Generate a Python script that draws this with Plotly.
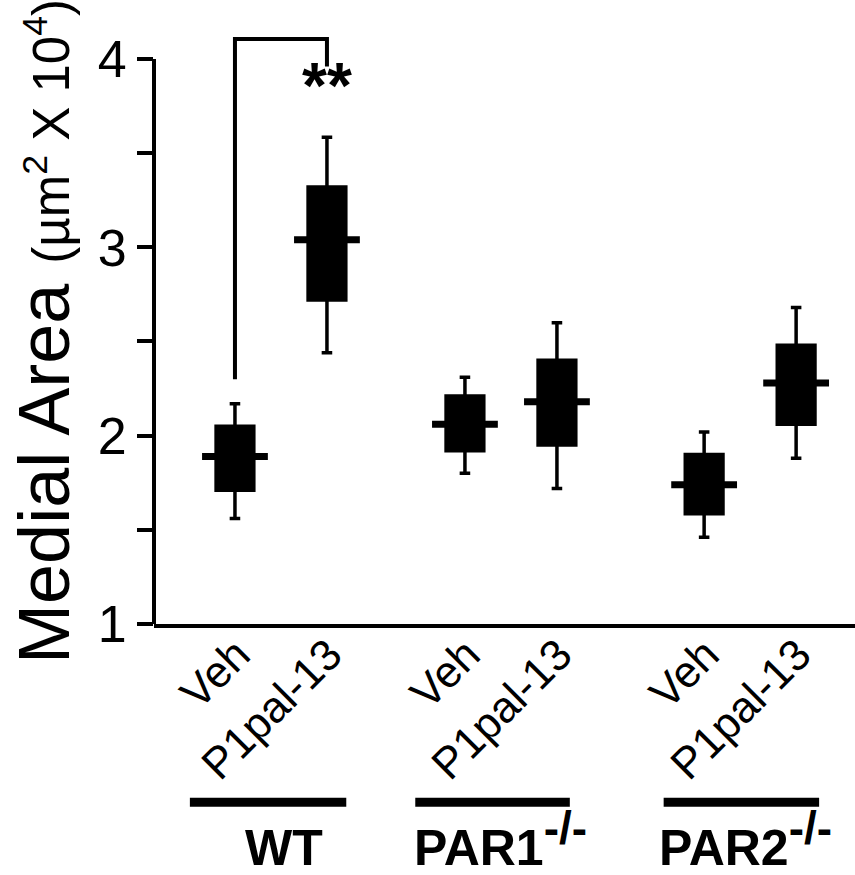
import plotly.graph_objects as go

# ---- data ----
treatments = ["Veh", "P1pal-13", "Veh", "P1pal-13", "Veh", "P1pal-13"]
groups = ["WT", "PAR1", "PAR2"]
group_sup = ["", "-/-", "-/-"]
positions = [1.0, 2.0, 3.5, 4.5, 6.1, 7.1]
lower_whisker = [1.56, 2.44, 1.80, 1.72, 1.46, 1.88]
q1_vals = [1.71, 2.72, 1.92, 1.95, 1.585, 2.06]
medians = [1.89, 3.04, 2.06, 2.18, 1.74, 2.28]
q3_vals = [2.05, 3.32, 2.21, 2.40, 1.90, 2.48]
upper_whisker = [2.17, 3.585, 2.31, 2.60, 2.02, 2.68]

y_ticks = [1, 1.5, 2, 2.5, 3, 3.5, 4]
y_ticktext = ["1", "", "2", "", "3", "", "4"]

# significance bracket (WT Veh vs WT P1pal-13)
bracket_x = [1.0, 2.0]
bracket_y = [2.30, 4.106, 3.96]
sig_label = "**"
sig_y = 4.06

# group underline bars and label positions
bar_start = [0.51, 2.96, 5.66]
bar_end = [2.21, 4.64, 7.35]
group_label_x = [1.53, 3.89, 6.55]

FONT = "Liberation Sans, Arial, sans-serif"

fig = go.Figure()

fig.add_trace(go.Box(
    x=positions,
    q1=q1_vals, median=medians, q3=q3_vals,
    lowerfence=lower_whisker, upperfence=upper_whisker,
    width=0.41,
    fillcolor="black",
    line=dict(color="black", width=3.5),
    whiskerwidth=0.28,
    boxpoints=False,
    hoverinfo="skip",
))

# median protrusions
fig.add_trace(go.Scatter(
    x=positions, y=medians, mode="markers",
    marker=dict(symbol="line-ew", size=47, line=dict(color="black", width=7)),
    hoverinfo="skip",
))

shapes = []
# y axis line from 1 to 4
shapes.append(dict(type="line", xref="paper", yref="y", x0=0, x1=0,
                   y0=y_ticks[0], y1=y_ticks[-1], line=dict(color="black", width=4)))
# bracket
path = (f"M {bracket_x[0]},{bracket_y[0]} L {bracket_x[0]},{bracket_y[1]} "
        f"L {bracket_x[1]},{bracket_y[1]} L {bracket_x[1]},{bracket_y[2]}")
shapes.append(dict(type="path", xref="x", yref="y", path=path,
                   line=dict(color="black", width=4)))
# group bars
for s, e in zip(bar_start, bar_end):
    shapes.append(dict(type="line", xref="x", yref="paper", x0=s, x1=e,
                       y0=-0.295, y1=-0.295, line=dict(color="black", width=9)))

annotations = []
annotations.append(dict(x=bracket_x[1], y=sig_y, xref="x", yref="y", text=f"<b>{sig_label}</b>",
                        showarrow=False, xanchor="center", yanchor="top",
                        font=dict(size=64, color="black", family=FONT)))
for gx, g, sp in zip(group_label_x, groups, group_sup):
    txt = f"<b>{g}</b>"
    if sp:
        txt += f"<sup><b><span style='font-size:46px'>{sp}</span></b></sup>"
    annotations.append(dict(x=gx, y=-0.420, xref="x", yref="paper", text=txt,
                            showarrow=False, xanchor="center", yanchor="bottom",
                            font=dict(size=50, color="black", family=FONT)))
annotations.append(dict(
    x=-0.158, y=0.484, xref="paper", yref="paper",
    text="Medial Area <span style='font-size:51px'>(µm<sup>2</sup> X 10<sup>4</sup>)</span>",
    textangle=-90, showarrow=False, xanchor="center", yanchor="middle",
    font=dict(size=72, color="black", family=FONT)))

fig.update_layout(
    width=855, height=875, autosize=False,
    margin=dict(l=154, r=0, t=20, b=251),
    paper_bgcolor="white", plot_bgcolor="white",
    showlegend=False,
    shapes=shapes, annotations=annotations,
    font=dict(family=FONT, color="black"),
)
fig.update_xaxes(
    range=[0.12, 7.74], showgrid=False, zeroline=False,
    showline=True, linecolor="black", linewidth=4,
    tickvals=positions, ticktext=treatments, tickangle=-45,
    ticks="", tickfont=dict(size=44, family=FONT, color="black"),
    ticklabelstandoff=-17, ticklabelshift=2,
    automargin=False,
)
fig.update_yaxes(
    range=[1, 4.207], showgrid=False, zeroline=False, showline=False,
    tickvals=y_ticks, ticktext=y_ticktext,
    ticks="outside", ticklen=16, tickwidth=4, tickcolor="black",
    tickfont=dict(size=52, family=FONT, color="black"),
    automargin=False,
)

fig.write_html(
    "out.html",
    config={"displayModeBar": False},
    post_script="document.body.style.margin='0';document.body.style.overflow='hidden';",
)
